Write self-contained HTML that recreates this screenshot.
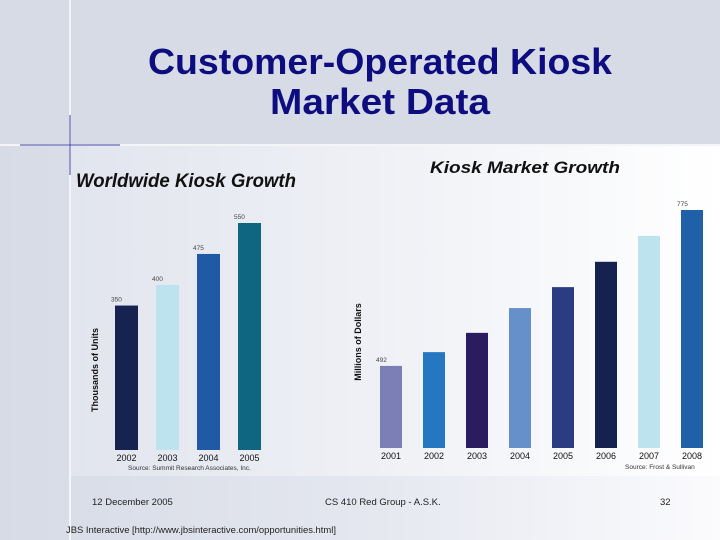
<!DOCTYPE html>
<html><head><meta charset="utf-8"><style>
body{margin:0;width:720px;height:540px;overflow:hidden;background:#d7dbe6;font-family:"Liberation Sans",sans-serif}
svg{display:block}
</style></head><body>
<svg width="720" height="540">
<defs>
<linearGradient id="bg" x1="0" x2="1" y1="0" y2="0"><stop offset="0" stop-color="#d7dbe6"/><stop offset="0.5" stop-color="#e4e7ef"/><stop offset="1" stop-color="#fbfbfd"/></linearGradient>
<linearGradient id="img" x1="0" x2="1" y1="0" y2="0"><stop offset="0" stop-color="#e2e5ee"/><stop offset="0.45" stop-color="#eef0f5"/><stop offset="1" stop-color="#ffffff"/></linearGradient>
</defs>
<rect x="0" y="145" width="720" height="395" fill="url(#bg)"/>
<rect x="71" y="146" width="649" height="330" fill="url(#img)"/>
<line x1="70" y1="0" x2="70" y2="540" stroke="#f4f5f9" stroke-width="2"/>
<line x1="0" y1="145" x2="720" y2="145" stroke="#f4f5f9" stroke-width="2"/>
<line x1="20" y1="145" x2="120" y2="145" stroke="#4848a8" stroke-width="1.5" opacity="0.7"/>
<line x1="70" y1="115" x2="70" y2="175" stroke="#4848a8" stroke-width="1.5" opacity="0.7"/>
<text x="148" y="74" textLength="464" lengthAdjust="spacingAndGlyphs" font-weight="bold" font-size="36" fill="#0d0d80">Customer-Operated Kiosk</text>
<text x="270" y="114" textLength="220" lengthAdjust="spacingAndGlyphs" font-weight="bold" font-size="36" fill="#0d0d80">Market Data</text>

<text x="76" y="187" textLength="220" lengthAdjust="spacingAndGlyphs" font-size="19" font-weight="bold" font-style="italic" fill="#111">Worldwide Kiosk Growth</text>
<text transform="translate(98,370) rotate(-90)" text-anchor="middle" font-size="9" font-weight="bold" fill="#111">Thousands of Units</text>
<g id="left"></g>
<text x="128" y="470" font-size="6.5" fill="#333">Source: Summit Research Associates, Inc.</text>

<text x="430" y="173" textLength="190" lengthAdjust="spacingAndGlyphs" font-size="17" font-weight="bold" font-style="italic" fill="#111">Kiosk Market Growth</text>
<text transform="translate(361,342) rotate(-90)" text-anchor="middle" font-size="9" font-weight="bold" fill="#111">Millions of Dollars</text>
<g id="right"></g>
<text x="625" y="469" font-size="6.5" fill="#333">Source: Frost &amp; Sullivan</text>

<text x="92" y="505" font-size="9.5" fill="#222">12 December 2005</text>
<text x="325" y="505" font-size="9.5" fill="#222">CS 410 Red Group - A.S.K.</text>
<text x="660" y="505" font-size="9.5" fill="#222">32</text>
<text x="66" y="533" textLength="270" lengthAdjust="spacingAndGlyphs" font-size="9" fill="#222">JBS Interactive [http://www.jbsinteractive.com/opportunities.html]</text>
</svg>
<script>
const leftCats=["2002","2003","2004","2005"];
const leftVals=[350,400,475,550];
const leftLabels=["350","400","475","550"];
const leftColors=["#16224f","#bde3ee","#1f5aa6","#0f6681"];
const rightCats=["2001","2002","2003","2004","2005","2006","2007","2008"];
const rightVals=[492,517,552,597,635,681,728,775];
const rightLabels=["492","","","","","","","775"];
const rightColors=["#7b7fb6","#2477c0","#2a1c5e","#6590c9","#2a3d82","#14224f","#bde3ee","#2060a8"];
const NS="http://www.w3.org/2000/svg";
function draw(gid,cats,vals,labels,colors,x0,step,w,base,vmin,vmax,pxTop){
  const g=document.getElementById(gid);
  const y=v=>base-(v-vmin)/(vmax-vmin)*(base-pxTop);
  cats.forEach((c,i)=>{
    const x=x0+i*step, top=y(vals[i]);
    const r=document.createElementNS(NS,'rect');
    
    
    r.setAttribute('x',x);r.setAttribute('y',top);r.setAttribute('width',w);r.setAttribute('height',base-top);r.setAttribute('fill',colors[i]);
    g.appendChild(r);
    const t=document.createElementNS(NS,'text');
    
    
    t.setAttribute('x',x+w/2);t.setAttribute('y',base+11);t.setAttribute('text-anchor','middle');t.setAttribute('font-size','9');t.setAttribute('fill','#111');
    t.textContent=c;g.appendChild(t);
    if(labels[i]){
      const l=document.createElementNS(NS,'text');
      
      
      l.setAttribute('x',x-4);l.setAttribute('y',top-4);l.setAttribute('font-size','6.5');l.setAttribute('fill','#444');
      l.textContent=labels[i];g.appendChild(l);
    }
  });
}
draw('left',leftCats,leftVals,leftLabels,leftColors,115,41,23,450,0,550,223);
draw('right',rightCats,rightVals,rightLabels,rightColors,380,43,22,448,343,775,210);
</script>
</body></html>
